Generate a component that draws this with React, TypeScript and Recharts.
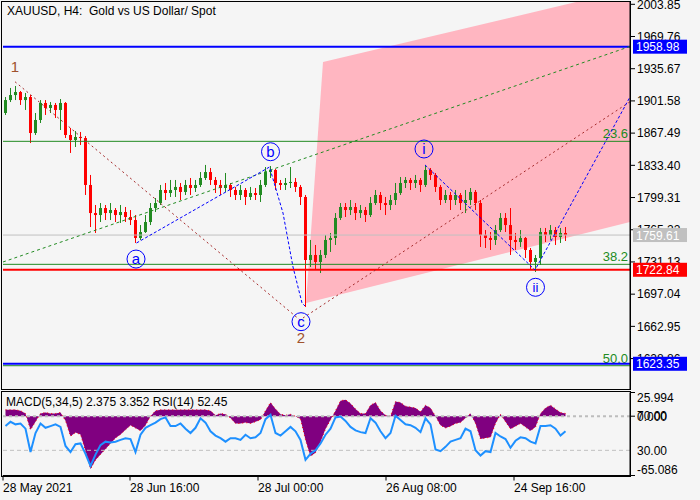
import React from "react";
import {
	ComposedChart,
	Bar,
	Line,
	Area,
	Scatter,
	XAxis,
	YAxis,
	ReferenceLine,
} from "recharts";

const FONT = "'Liberation Sans', Arial, sans-serif";

// H4 bars, grouped about five to a slot
const firstOpen = 1888.8;
const closes = [
	1902.5, 1907.8, 1911.0, 1902.5, 1905.7, 1867.6, 1881.4, 1899.4, 1894.1, 1897.3,
	1892.0, 1899.4, 1865.5, 1860.2, 1863.4, 1862.3, 1812.6, 1782.9, 1780.8, 1788.2,
	1782.9, 1786.1, 1780.8, 1784.0, 1778.7, 1775.5, 1756.5, 1762.8, 1773.4, 1788.2,
	1793.5, 1807.3, 1804.1, 1807.3, 1810.5, 1805.2, 1812.6, 1809.4, 1812.6, 1820.0,
	1826.3, 1817.9, 1812.6, 1809.4, 1812.6, 1807.3, 1802.0, 1807.3, 1799.9, 1804.1,
	1802.0, 1812.6, 1826.3, 1828.5, 1814.7, 1812.6, 1814.7, 1815.8, 1810.5, 1799.9,
	1733.2, 1738.5, 1731.1, 1738.5, 1754.4, 1756.5, 1777.7, 1789.3, 1786.1, 1789.3,
	1782.9, 1786.1, 1780.8, 1793.5, 1802.0, 1793.5, 1791.4, 1796.7, 1804.1, 1814.7,
	1817.9, 1814.7, 1817.9, 1812.6, 1828.5, 1823.2, 1810.5, 1796.7, 1802.0, 1796.7,
	1802.0, 1793.5, 1796.7, 1805.2, 1793.5, 1759.6, 1756.5, 1754.4, 1764.9, 1777.7,
	1770.2, 1754.4, 1752.2, 1756.5, 1743.8, 1731.1, 1735.3, 1762.8, 1759.6, 1764.9,
	1757.5, 1761.8, 1759.6,
];
const highs = [
	1905.7, 1915.3, 1917.4, 1912.1, 1910.0, 1907.8, 1888.8, 1902.5, 1902.5, 1900.4,
	1899.4, 1903.6, 1900.4, 1872.9, 1869.7, 1868.7, 1864.4, 1823.2, 1791.4, 1793.5,
	1791.4, 1793.5, 1788.2, 1791.4, 1789.3, 1786.1, 1780.8, 1770.2, 1780.8, 1793.5,
	1798.8, 1812.6, 1814.7, 1817.9, 1817.9, 1814.7, 1817.9, 1820.0, 1817.9, 1826.3,
	1833.8, 1830.6, 1821.0, 1817.9, 1825.3, 1814.7, 1810.5, 1812.6, 1809.4, 1810.5,
	1809.4, 1817.9, 1831.6, 1832.7, 1829.6, 1817.9, 1820.0, 1831.6, 1820.0, 1812.6,
	1802.0, 1754.4, 1749.1, 1743.8, 1759.6, 1761.8, 1782.9, 1793.5, 1793.5, 1796.7,
	1793.5, 1791.4, 1789.3, 1799.9, 1807.3, 1805.2, 1799.9, 1802.0, 1814.7, 1821.0,
	1821.0, 1820.0, 1823.2, 1820.0, 1833.8, 1830.6, 1825.3, 1812.6, 1807.3, 1805.2,
	1807.3, 1804.1, 1807.3, 1809.4, 1807.3, 1796.7, 1764.9, 1762.8, 1770.2, 1782.9,
	1782.9, 1788.2, 1761.8, 1764.9, 1757.5, 1745.9, 1738.5, 1767.1, 1767.1, 1770.2,
	1768.1, 1767.1, 1768.1,
];
const lows = [
	1886.7, 1900.4, 1902.5, 1897.3, 1892.0, 1857.0, 1865.5, 1878.2, 1886.7, 1888.8,
	1883.5, 1870.8, 1862.3, 1846.5, 1852.8, 1854.9, 1802.0, 1768.1, 1761.8, 1773.4,
	1775.5, 1775.5, 1773.4, 1772.4, 1773.4, 1770.2, 1751.2, 1754.4, 1761.8, 1770.2,
	1784.0, 1791.4, 1796.7, 1799.9, 1799.9, 1796.7, 1802.0, 1802.0, 1805.2, 1810.5,
	1817.9, 1812.6, 1804.1, 1802.0, 1805.2, 1799.9, 1796.7, 1796.7, 1791.4, 1796.7,
	1796.7, 1794.6, 1810.5, 1820.0, 1807.3, 1807.3, 1807.3, 1809.4, 1805.2, 1791.4,
	1683.4, 1725.8, 1722.6, 1719.4, 1735.3, 1741.7, 1749.1, 1775.5, 1778.7, 1780.8,
	1775.5, 1777.7, 1773.4, 1778.7, 1791.4, 1786.1, 1780.8, 1786.1, 1791.4, 1802.0,
	1809.4, 1807.3, 1809.4, 1805.2, 1810.5, 1817.9, 1805.2, 1791.4, 1793.5, 1786.1,
	1791.4, 1786.1, 1782.9, 1791.4, 1786.1, 1747.0, 1745.9, 1743.8, 1749.1, 1762.8,
	1762.8, 1738.5, 1743.8, 1747.0, 1735.3, 1722.6, 1720.5, 1727.9, 1752.2, 1754.4,
	1749.1, 1751.2, 1753.3,
];

// MACD(5,34,5) histogram and RSI(14), one value per slot
const macdHist = [
	7, 7, 7, 6, 3, -15, -6, 3, 4, 3, 3, 4, -5, -22, -18, -20, -38, -58, -48, -42,
	-36, -30, -24, -20, -15, -10, -13, -16, -10, 0, 6, 7, 7, 7, 7, 7, 7, 7, 7, 7,
	7, 6, 1, 3, 2, -2, -8, -8, -7, -8, -6, -4, 6, 15, 8, 2, 1, 2, 0, -3,
	-26, -44, -40, -28, -14, -4, 6, 17, 18, 14, 8, 3, 3, 12, 15, 6, 1, 0, 16, 15,
	11, 10, 9, 5, 12, 9, 0, -10, -13, -11, -8, -7, -2, 3, -8, -25, -24, -23, -8, 2,
	-6, -14, -11, -8, -12, -16, -12, 3, 9, 12, 8, 4, 3,
];
const rsi14 = [
	58, 63, 60, 61, 55, 28, 50, 61, 56, 58, 60, 57, 35, 28, 37, 38, 26, 12, 25, 36,
	40, 39, 40, 42, 44, 43, 28, 48, 56, 59, 62, 66, 68, 58, 58, 61, 55, 50, 56, 67,
	62, 52, 47, 44, 40, 44, 44, 42, 48, 44, 45, 50, 66, 71, 50, 47, 52, 57, 52, 42,
	19, 26, 30, 38, 48, 55, 68, 69, 64, 57, 53, 51, 50, 67, 62, 52, 44, 50, 70, 65,
	60, 59, 56, 51, 67, 60, 31, 29, 34, 40, 42, 44, 55, 52, 30, 24, 29, 28, 50, 46,
	43, 33, 41, 45, 44, 40, 38, 58, 58, 59, 55, 47, 52,
];

const priceTicks = [
	2003.85, 1969.76, 1935.67, 1901.58, 1867.49, 1833.4, 1799.31, 1765.22, 1731.13,
	1697.04, 1662.95, 1628.86,
];
const macdTicks = [25.994, 0, -65.086];
const dateTicks = [0, 25.4, 51, 76.6, 102.2];
const dateLabels = ["28 May 2021", "28 Jun 16:00", "28 Jul 00:00", "26 Aug 08:00", "24 Sep 16:00"];

// levels
const resistance = 1958.98;
const lastPrice = 1759.61;
const pivot = 1722.84;
const support = 1623.35;
const fibPrices = [1858.8, 1728.6, 1621.3];
const fibNames = ["23.6", "38.2", "50.0"];

// drawn objects (x in bar slots, p in price)
const channelZone = [
	{ x: 60.6, band: [1687.7, 1687.7] },
	{ x: 64, band: [1692.2, 1942.8] },
	{ x: 125.4, band: [1773.4, 2019.8] },
];
const trendBrown = [
	{ x: 2.4, p: 1921.9 },
	{ x: 59.4, p: 1669.7 },
	{ x: 125.4, p: 1900.7 },
];
const trendGreen = [
	{ x: 0, p: 1731.1 },
	{ x: 125.4, p: 1959.2 },
];
const waveAbc = [
	{ x: 26.7, p: 1751.2 },
	{ x: 53.3, p: 1831.6 },
	{ x: 56, p: 1782.9 },
	{ x: 58, p: 1725.8 },
	{ x: 59.8, p: 1687.7 },
	{ x: 60.4, p: 1684.5 },
];
const waveImpulse = [
	{ x: 84.4, p: 1833.8 },
	{ x: 106.4, p: 1722.6 },
	{ x: 125.4, p: 1905.7 },
];
const circledMarks = [
	{ x: 26.6, p: 1734.2, t: "a" },
	{ x: 53.5, p: 1847.8, t: "b" },
	{ x: 59.6, p: 1667.9, t: "c" },
	{ x: 84.2, p: 1850.7, t: "i" },
	{ x: 106.5, p: 1704.3, t: "ii" },
];
const waveNumbers = [
	{ x: 2.4, p: 1937.8, t: "1" },
	{ x: 59.6, p: 1650.6, t: "2" },
];

const candles = closes.map((c, i) => ({
	x: i + 0.5,
	open: i === 0 ? firstOpen : closes[i - 1],
	close: c,
	high: highs[i],
	low: lows[i],
	range: [lows[i], highs[i]],
}));

const indicators = closes.map((_, i) => ({
	x: i + 0.5,
	macd: macdHist[i],
	rsi: rsi14[i],
}));

const PRICE_DOMAIN = [1596.65, 2007.34];
const SLOT_DOMAIN = [0, 125.4];
const mainMargin = { top: 1, right: 0, bottom: 1, left: 3 };

function Candle(props: any) {
	const { x, y, width, height, payload } = props;
	if (!payload) return null;
	const top = Math.min(y, y + height);
	const h = Math.abs(height);
	const span = payload.high - payload.low;
	const k = span > 0 ? h / span : 0;
	const yo = top + (payload.high - payload.open) * k;
	const yc = top + (payload.high - payload.close) * k;
	const color = payload.close >= payload.open ? "#228b22" : "#ff0000";
	const cx = Math.round(x + width / 2) + 0.5;
	return (
		<g>
			<line x1={cx} x2={cx} y1={top} y2={top + h} stroke={color} strokeWidth={1} />
			<rect
				x={cx - 1.5}
				y={Math.min(yo, yc)}
				width={3}
				height={Math.max(1, Math.abs(yc - yo))}
				fill={color}
			/>
		</g>
	);
}

function PriceBox({ viewBox, text, bg }: any) {
	if (!viewBox) return null;
	const x = viewBox.x + viewBox.width + 3;
	const y = viewBox.y;
	return (
		<g>
			<rect x={x} y={y - 7} width={54} height={14} fill={bg} />
			<text x={x + 3} y={y + 4.5} fill="#ffffff" fontSize={12} fontFamily={FONT}>
				{text}
			</text>
		</g>
	);
}

function FibTag({ viewBox, text }: any) {
	if (!viewBox) return null;
	return (
		<text
			x={viewBox.x + viewBox.width - 2}
			y={viewBox.y - 3}
			textAnchor="end"
			fill="#228b22"
			fontSize={13}
			fontFamily={FONT}
		>
			{text}
		</text>
	);
}

function SideText({ viewBox, text }: any) {
	if (!viewBox) return null;
	return (
		<text
			x={viewBox.x + viewBox.width + 7}
			y={viewBox.y + 4.5}
			fill="#000"
			fontSize={12}
			fontFamily={FONT}
		>
			{text}
		</text>
	);
}

function CircledMark(props: any) {
	const { cx, cy, payload } = props;
	return (
		<g>
			<circle cx={cx} cy={cy} r={9} fill="none" stroke="#0000ff" strokeWidth={1} />
			<text
				x={cx}
				y={cy + 5}
				textAnchor="middle"
				fill="#0000ff"
				fontSize={payload.t === "ii" ? 13 : 15}
				fontFamily={FONT}
			>
				{payload.t}
			</text>
		</g>
	);
}

function WaveNumber(props: any) {
	const { cx, cy, payload } = props;
	return (
		<text
			x={cx}
			y={cy + 5}
			textAnchor="middle"
			fill="#a0522d"
			fontSize={15}
			fontFamily={FONT}
		>
			{payload.t}
		</text>
	);
}

function MacdTick(props: any) {
	const { x, y, payload } = props;
	const v = payload.value;
	const dy = v > 20 ? 5 : v < -60 ? -6 : 0;
	return (
		<text x={x} y={y + dy + 4.5} fill="#000" fontSize={12} fontFamily={FONT}>
			{v.toFixed(3)}
		</text>
	);
}

function DateTick(props: any) {
	const { x, y, index } = props;
	return (
		<text x={x} y={y + 9} fill="#000" fontSize={12} fontFamily={FONT}>
			{dateLabels[index]}
		</text>
	);
}

const tickStyle = { fill: "#000", fontSize: 12, fontFamily: FONT };

const layer: React.CSSProperties = { position: "absolute", left: 0, top: 0 };

export default function App() {
	return (
		<div
			style={{
				position: "absolute",
				left: 0,
				top: 0,
				width: 700,
				height: 500,
				background: "#f5f5f5",
				overflow: "hidden",
				fontFamily: FONT,
			}}
		>
			<div style={layer}>
				<ComposedChart width={700} height={390} data={candles} margin={mainMargin}>
					<XAxis type="number" dataKey="x" domain={SLOT_DOMAIN} allowDataOverflow hide />
					<YAxis
						orientation="right"
						width={70}
						domain={PRICE_DOMAIN}
						allowDataOverflow
						ticks={priceTicks}
						interval={0}
						tickFormatter={(v: number) => v.toFixed(2)}
						tick={tickStyle}
						tickSize={5}
						tickMargin={2}
						stroke="#000"
					/>
					<Area
						data={channelZone}
						dataKey="band"
						type="linear"
						stroke="none"
						fill="#ffb6c1"
						fillOpacity={1}
						isAnimationActive={false}
					/>
					<ReferenceLine y={resistance} stroke="#0000ff" strokeWidth={2} />
					<ReferenceLine
						y={fibPrices[0]}
						stroke="#228b22"
						label={<FibTag text={fibNames[0]} />}
					/>
					<ReferenceLine y={lastPrice} stroke="#c0c0c0" />
					<ReferenceLine
						y={fibPrices[1]}
						stroke="#228b22"
						label={<FibTag text={fibNames[1]} />}
					/>
					<ReferenceLine y={pivot} stroke="#ff0000" strokeWidth={2} />
					<ReferenceLine
						y={fibPrices[2]}
						stroke="#228b22"
						label={<FibTag text={fibNames[2]} />}
					/>
					<ReferenceLine y={support} stroke="#0000ff" strokeWidth={2} />
					<Bar dataKey="range" barSize={3} shape={Candle} isAnimationActive={false} />
					<Line
						data={trendGreen}
						dataKey="p"
						stroke="#228b22"
						strokeDasharray="3 3"
						dot={false}
						isAnimationActive={false}
					/>
					<Line
						data={trendBrown}
						dataKey="p"
						stroke="#a52a2a"
						strokeDasharray="2 3"
						dot={false}
						isAnimationActive={false}
					/>
					<Line
						data={waveAbc}
						dataKey="p"
						stroke="#0000ff"
						strokeDasharray="3 2"
						dot={false}
						isAnimationActive={false}
					/>
					<Line
						data={waveImpulse}
						dataKey="p"
						stroke="#0000ff"
						strokeDasharray="3 2"
						dot={false}
						isAnimationActive={false}
					/>
					<Scatter data={circledMarks} dataKey="p" shape={CircledMark} isAnimationActive={false} />
					<Scatter data={waveNumbers} dataKey="p" shape={WaveNumber} isAnimationActive={false} />
				</ComposedChart>
			</div>

			{/* price tags sit above the axis labels, same scales as the price panel */}
			<div style={layer}>
				<ComposedChart width={700} height={390} data={candles} margin={mainMargin}>
					<XAxis type="number" dataKey="x" domain={SLOT_DOMAIN} allowDataOverflow hide />
					<YAxis
						orientation="right"
						width={70}
						domain={PRICE_DOMAIN}
						allowDataOverflow
						tick={false}
						tickLine={false}
						axisLine={false}
					/>
					<ReferenceLine
						y={resistance}
						stroke="none"
						label={<PriceBox text={resistance.toFixed(2)} bg="#0000ff" />}
					/>
					<ReferenceLine
						y={lastPrice}
						stroke="none"
						label={<PriceBox text={lastPrice.toFixed(2)} bg="#c0c0c0" />}
					/>
					<ReferenceLine
						y={pivot}
						stroke="none"
						label={<PriceBox text={pivot.toFixed(2)} bg="#ff0000" />}
					/>
					<ReferenceLine
						y={support}
						stroke="none"
						label={<PriceBox text={support.toFixed(2)} bg="#0000ff" />}
					/>
				</ComposedChart>
			</div>

			<div style={{ position: "absolute", left: 0, top: 390 }}>
				<ComposedChart
					width={700}
					height={110}
					data={indicators}
					margin={{ top: 2.5, right: 0, bottom: 0, left: 3 }}
				>
					<XAxis
						type="number"
						dataKey="x"
						domain={SLOT_DOMAIN}
						allowDataOverflow
						ticks={dateTicks}
						interval={0}
						height={24.5}
						tick={<DateTick />}
						tickSize={5}
						tickMargin={2}
						stroke="#000"
					/>
					<YAxis
						yAxisId="m"
						orientation="right"
						width={70}
						domain={[-65.086, 25.994]}
						allowDataOverflow
						ticks={macdTicks}
						interval={0}
						tick={<MacdTick />}
						tickSize={5}
						tickMargin={2}
						stroke="#000"
					/>
					<YAxis yAxisId="r" domain={[0.9, 96.8]} allowDataOverflow hide />
					<ReferenceLine
						yAxisId="m"
						y={0}
						stroke="#bdbdbd"
						strokeWidth={2}
						strokeDasharray="3 3"
					/>
					<ReferenceLine
						yAxisId="r"
						y={30}
						stroke="#c0c0c0"
						strokeDasharray="4 3"
						label={<SideText text="30.00" />}
					/>
					<ReferenceLine
						yAxisId="r"
						y={70}
						stroke="none"
						label={<SideText text="70.00" />}
					/>
					<Area
						yAxisId="m"
						dataKey="macd"
						type="linear"
						fill="#800080"
						fillOpacity={1}
						stroke="#ff0000"
						strokeDasharray="1 3"
						isAnimationActive={false}
					/>
					<Line
						yAxisId="r"
						dataKey="rsi"
						type="linear"
						stroke="#1e90ff"
						strokeWidth={2}
						dot={false}
						isAnimationActive={false}
					/>
				</ComposedChart>
			</div>

			<div
				style={{
					position: "absolute",
					left: 7,
					top: 4,
					fontSize: 12,
					color: "#000",
					whiteSpace: "pre",
				}}
			>
				{"XAUUSD, H4:  Gold vs US Dollar/ Spot"}
			</div>
			<div
				style={{
					position: "absolute",
					left: 6,
					top: 395,
					fontSize: 12,
					color: "#000",
				}}
			>
				MACD(5,34,5) 2.375 3.352 RSI(14) 52.45
			</div>
			<div
				style={{
					position: "absolute",
					left: 1,
					top: 1,
					width: 630,
					height: 389,
					border: "1px solid #000",
					boxSizing: "border-box",
					pointerEvents: "none",
				}}
			/>
			<div
				style={{
					position: "absolute",
					left: 1,
					top: 391,
					width: 630,
					height: 86,
					border: "1px solid #000",
					boxSizing: "border-box",
					pointerEvents: "none",
				}}
			/>
		</div>
	);
}
